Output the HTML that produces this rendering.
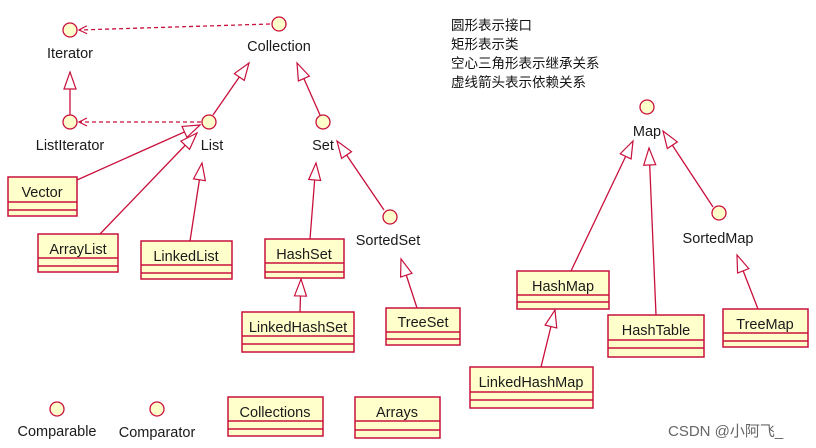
<!DOCTYPE html>
<html><head><meta charset="utf-8"><style>
html,body{margin:0;padding:0;background:#fff;width:816px;height:448px;overflow:hidden}
svg{display:block}
text{font-family:"Liberation Sans",sans-serif;font-size:14.5px;fill:#1a1a1a}
.cn{font-family:"Liberation Sans","Noto Sans CJK SC",sans-serif;font-size:13.5px;fill:#111}
</style></head><body>
<svg width="816" height="448" viewBox="0 0 816 448">
<defs>
<marker id="tri" markerUnits="userSpaceOnUse" markerWidth="22" markerHeight="18" refX="18" refY="7" orient="auto">
<path d="M1,1 L18,7 L1,13 Z" fill="#fff" stroke="#c8103c" stroke-width="1.2"/>
</marker>
<marker id="open" markerUnits="userSpaceOnUse" markerWidth="12" markerHeight="12" refX="9" refY="5" orient="auto">
<path d="M1,1 L9,5 L1,9" fill="none" stroke="#c8103c" stroke-width="1.2"/>
</marker>
</defs>
<g stroke="#c8103c" stroke-width="1.3" fill="none">
<line x1="270" y1="24" x2="79" y2="30" stroke-dasharray="4,3" marker-end="url(#open)"/>
<line x1="201" y1="122" x2="79" y2="122" stroke-dasharray="4,3" marker-end="url(#open)"/>
<line x1="70" y1="115" x2="70" y2="72" marker-end="url(#tri)"/>
<line x1="213" y1="115" x2="249" y2="63" marker-end="url(#tri)"/>
<line x1="320" y1="115" x2="297" y2="63" marker-end="url(#tri)"/>
<line x1="77" y1="180" x2="200" y2="125" marker-end="url(#tri)"/>
<line x1="100" y1="234" x2="197" y2="133" marker-end="url(#tri)"/>
<line x1="190" y1="241" x2="202" y2="163" marker-end="url(#tri)"/>
<line x1="310" y1="239" x2="316" y2="163" marker-end="url(#tri)"/>
<line x1="384" y1="210" x2="337" y2="141" marker-end="url(#tri)"/>
<line x1="417" y1="308" x2="401" y2="259" marker-end="url(#tri)"/>
<line x1="300" y1="312" x2="301" y2="279" marker-end="url(#tri)"/>
<line x1="571" y1="271" x2="633" y2="141" marker-end="url(#tri)"/>
<line x1="656" y1="315" x2="649" y2="148" marker-end="url(#tri)"/>
<line x1="713" y1="207" x2="663" y2="131" marker-end="url(#tri)"/>
<line x1="758" y1="309" x2="737" y2="255" marker-end="url(#tri)"/>
<line x1="541" y1="367" x2="555" y2="310" marker-end="url(#tri)"/>
</g>
<g fill="#ffffcc" stroke="#c8103c" stroke-width="1.3">
<circle cx="70" cy="30" r="7"/><circle cx="279" cy="24" r="7"/>
<circle cx="70" cy="122" r="7"/><circle cx="209" cy="122" r="7"/>
<circle cx="323" cy="122" r="7"/><circle cx="390" cy="217" r="7"/>
<circle cx="647" cy="107" r="7"/><circle cx="719" cy="213" r="7"/>
<circle cx="57" cy="409" r="7"/><circle cx="157" cy="409" r="7"/>
</g>
<g fill="#ffffcc" stroke="#c8103c" stroke-width="1.5">
<rect x="8" y="177" width="69" height="39"/><path d="M8,202H77M8,210H77"/>
<rect x="38" y="234" width="80" height="38"/><path d="M38,258H118M38,266H118"/>
<rect x="141" y="241" width="91" height="38"/><path d="M141,265H232M141,273H232"/>
<rect x="265" y="239" width="79" height="39"/><path d="M265,263H344M265,272H344"/>
<rect x="242" y="312" width="112" height="40"/><path d="M242,336H354M242,344H354"/>
<rect x="386" y="308" width="74" height="37"/><path d="M386,332H460M386,339H460"/>
<rect x="517" y="271" width="92" height="38"/><path d="M517,295H609M517,302H609"/>
<rect x="470" y="367" width="123" height="41"/><path d="M470,392H593M470,400H593"/>
<rect x="608" y="315" width="96" height="42"/><path d="M608,340H704M608,348H704"/>
<rect x="723" y="309" width="85" height="38"/><path d="M723,333H808M723,341H808"/>
<rect x="228" y="397" width="95" height="39"/><path d="M228,421H323M228,429H323"/>
<rect x="355" y="397" width="85" height="41"/><path d="M355,421H440M355,430H440"/>
</g>
<g text-anchor="middle">
<text x="70" y="58">Iterator</text>
<text x="279" y="51">Collection</text>
<text x="70" y="150">ListIterator</text>
<text x="212" y="150">List</text>
<text x="323" y="150">Set</text>
<text x="388" y="245">SortedSet</text>
<text x="647" y="136">Map</text>
<text x="718" y="243">SortedMap</text>
<text x="57" y="436">Comparable</text>
<text x="157" y="437">Comparator</text>
<text x="42" y="197">Vector</text>
<text x="78" y="254">ArrayList</text>
<text x="186" y="261">LinkedList</text>
<text x="304" y="259">HashSet</text>
<text x="298" y="332">LinkedHashSet</text>
<text x="423" y="327">TreeSet</text>
<text x="563" y="291">HashMap</text>
<text x="531" y="387">LinkedHashMap</text>
<text x="656" y="335">HashTable</text>
<text x="765" y="329">TreeMap</text>
<text x="275" y="417">Collections</text>
<text x="397" y="417">Arrays</text>
</g>
<text class="cn" x="451" y="30">圆形表示接口</text>
<text class="cn" x="451" y="49">矩形表示类</text>
<text class="cn" x="451" y="68">空心三角形表示继承关系</text>
<text class="cn" x="451" y="87">虚线箭头表示依赖关系</text>
<text class="cn" x="668" y="436" style="fill:#666;font-size:15px">CSDN @小阿飞_</text>
</svg>
</body></html>
